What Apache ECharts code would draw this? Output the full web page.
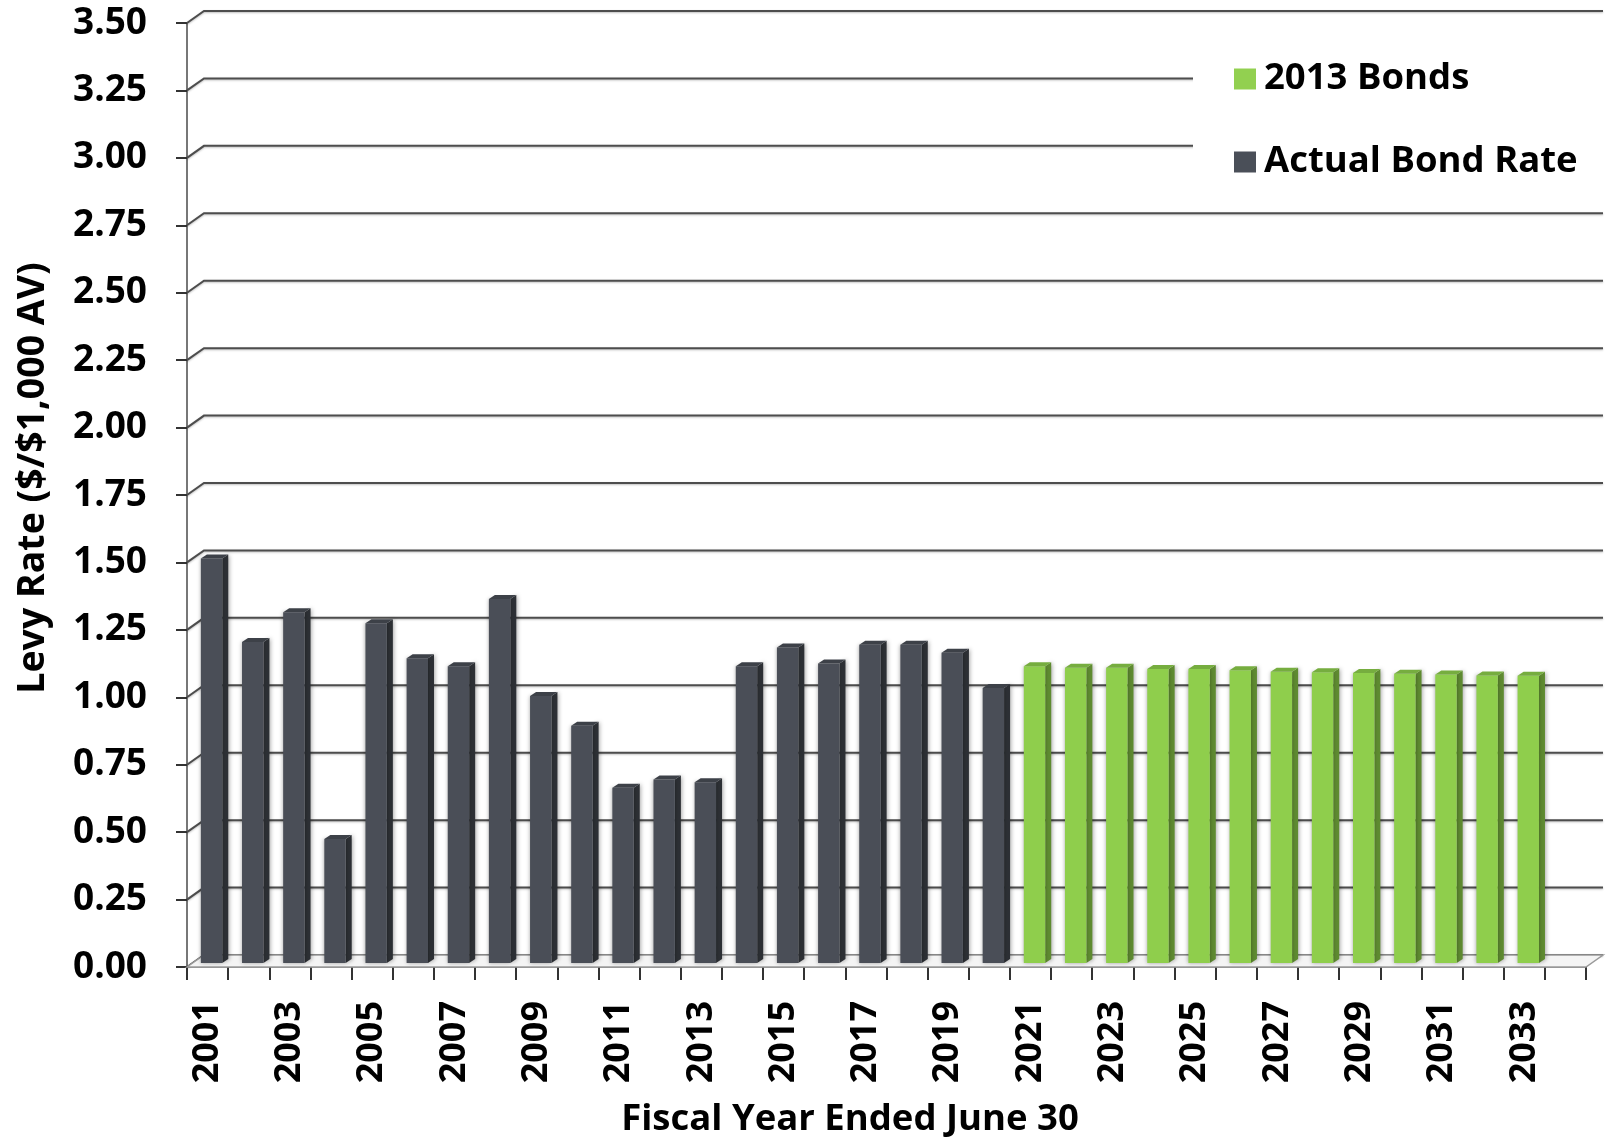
<!DOCTYPE html>
<html><head><meta charset="utf-8">
<script src="https://cdn.jsdelivr.net/npm/echarts@6/dist/echarts.min.js"></script>
<style>html,body{margin:0;padding:0;background:#fff}#c{width:1606px;height:1141px}</style>
</head><body><div id="c"></div>
<script>
// ---- data ----
const years = ['2001','2002','2003','2004','2005','2006','2007','2008','2009','2010',
  '2011','2012','2013','2014','2015','2016','2017','2018','2019','2020',
  '2021','2022','2023','2024','2025','2026','2027','2028','2029','2030',
  '2031','2032','2033','2034'];
const actualBondRate = [1.50, 1.19, 1.30, 0.46, 1.26, 1.13, 1.10, 1.35, 0.99, 0.88,
  0.65, 0.68, 0.67, 1.10, 1.17, 1.11, 1.18, 1.18, 1.15, 1.02];
const actualYears = years.slice(0, 20);
const bonds2013 = [1.10, 1.095, 1.095, 1.09, 1.09, 1.085, 1.08, 1.078, 1.075, 1.072, 1.07, 1.066, 1.065];
const bondYears = years.slice(20, 33);
const yTicks = [0, 0.25, 0.5, 0.75, 1.0, 1.25, 1.5, 1.75, 2.0, 2.25, 2.5, 2.75, 3.0, 3.25, 3.5];

const FONT = "'Open Sans', 'Noto Sans', sans-serif";
const DX = 17, DY = 12;     // back-wall depth offset
const BX = 5, BY = 4;       // bar position in depth
const SX = 6, SY = 4;       // bar thickness (side/top)

function barRenderer(front, side, top) {
  return function (params, api) {
    const v = api.value(1);
    if (v == null || isNaN(v)) return null;
    const p = api.coord([api.value(0), v]);
    const p0 = api.coord([api.value(0), 0]);
    const band = api.size([1, 0])[0];
    const w = band * 0.52;
    const xl = p[0] - w / 2 + BX - 1, xr = xl + w;
    const yt = p[1] - BY, yb = p0[1] - BY;
    return {
      type: 'group',
      children: [
        { type: 'polygon', shape: { points: [[xr, yt], [xr + SX, yt - SY], [xr + SX, yb - SY], [xr, yb]] },
          style: { fill: side, shadowBlur: 4, shadowColor: 'rgba(0,0,0,0.35)', shadowOffsetX: 1 } },
        { type: 'rect', shape: { x: xl, y: yt, width: w, height: yb - yt },
          style: { fill: front, shadowBlur: 4, shadowColor: 'rgba(0,0,0,0.35)' } },
        { type: 'polygon', shape: { points: [[xl, yt], [xl + SX, yt - SY], [xr + SX, yt - SY], [xr, yt]] },
          style: { fill: top } }
      ]
    };
  };
}

const chart = echarts.init(document.getElementById('c'));
chart.setOption({
  animation: false,
  backgroundColor: '#ffffff',
  grid: { left: 187, right: 20, top: 23, bottom: 174 },
  legend: {
    orient: 'vertical', left: 1193, top: 28,
    padding: [31, 120, 16, 41],
    backgroundColor: '#ffffff',
    itemWidth: 22, itemHeight: 21, itemGap: 43, icon: 'rect',
    data: ['2013 Bonds', 'Actual Bond Rate'],
    textStyle: { fontFamily: FONT, fontWeight: 'bold', fontSize: 36.5, color: '#000', lineHeight: 40, padding: [0, 0, 0, 3] }
  },
  xAxis: {
    type: 'category', data: years, boundaryGap: true,
    axisLine: { show: true, lineStyle: { color: '#8c8c8c', width: 2 } },
    axisTick: { show: true, interval: 0, length: 13, lineStyle: { color: '#333', width: 2 } },
    axisLabel: { interval: 1, rotate: 90, margin: 34, fontFamily: FONT, fontWeight: 'bold', fontSize: 36, color: '#000' },
    splitLine: { show: false }
  },
  yAxis: {
    type: 'value', min: 0, max: 3.5, interval: 0.25,
    axisLine: { show: true, lineStyle: { color: '#777', width: 2 } },
    axisTick: { show: true, length: 11, lineStyle: { color: '#333', width: 2 } },
    axisLabel: { margin: 40, fontFamily: FONT, fontWeight: 'bold', fontSize: 37, color: '#000',
      formatter: v => v.toFixed(2) },
    splitLine: { show: false }
  },
  graphic: [
    { type: 'text', x: 850, y: 1120,
      style: { text: 'Fiscal Year Ended June 30', fontFamily: FONT, fontWeight: 'bold', fontSize: 36.5, fill: '#000',
        align: 'center', verticalAlign: 'middle' } },
    { type: 'text', x: 33, y: 478, rotation: Math.PI / 2,
      style: { text: 'Levy Rate ($/$1,000 AV)', fontFamily: FONT, fontWeight: 'bold', fontSize: 37.5, fill: '#000',
        align: 'center', verticalAlign: 'middle' } }
  ],
  series: [
    { // back wall gridlines with diagonal connectors
      type: 'custom', name: 'grid', silent: true, z: 1, clip: false,
      data: yTicks.map(v => [0, v]),
      renderItem: function (params, api) {
        const cs = params.coordSys;
        const y = api.coord([0, api.value(1)])[1];
        return { type: 'polyline',
          shape: { points: [[cs.x, y], [cs.x + DX, y - DY], [cs.x + cs.width + DX, y - DY]] },
          style: { stroke: '#4d4d4d', lineWidth: 2, fill: null, shadowBlur: 2, shadowColor: 'rgba(0,0,0,0.25)', shadowOffsetY: 1 } };
      }
    },
    { // floor
      type: 'custom', name: 'floor', silent: true, z: 1, clip: false,
      data: [[0, 0]],
      renderItem: function (params, api) {
        const cs = params.coordSys;
        const y = api.coord([0, 0])[1];
        return { type: 'polygon',
          shape: { points: [[cs.x, y], [cs.x + DX, y - DY], [cs.x + cs.width + DX, y - DY], [cs.x + cs.width, y]] },
          style: { fill: '#f4f4f4', stroke: '#9a9a9a', lineWidth: 1.5 } };
      }
    },
    {
      type: 'custom', name: '2013 Bonds', z: 3, clip: false,
      itemStyle: { color: '#92d050' },
      encode: { x: 0, y: 1 },
      data: bonds2013.map((v, i) => [bondYears[i], v]),
      renderItem: barRenderer('#8fce4c', '#5f8b31', '#76ad3f')
    },
    {
      type: 'custom', name: 'Actual Bond Rate', z: 3, clip: false,
      itemStyle: { color: '#4a4f58' },
      encode: { x: 0, y: 1 },
      data: actualBondRate.map((v, i) => [actualYears[i], v]),
      renderItem: barRenderer('#4a4e57', '#2d3035', '#3d4148')
    }
  ]
});
</script>
</body></html>
